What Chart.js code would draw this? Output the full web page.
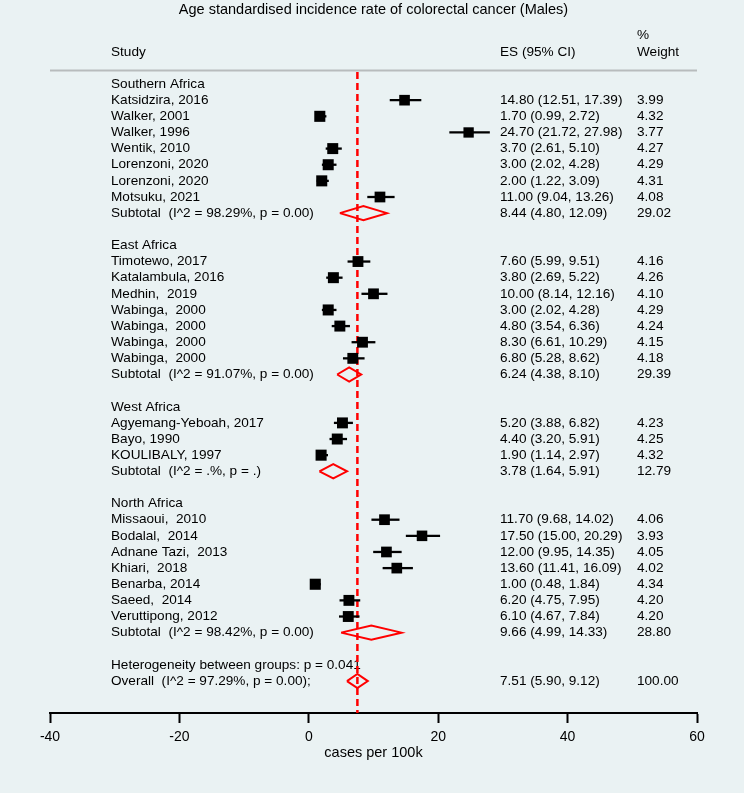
<!DOCTYPE html>
<html>
<head>
<meta charset="utf-8">
<script src="https://cdn.jsdelivr.net/npm/chart.js@4.4.0/dist/chart.umd.min.js"></script>
<style>
  html, body { margin: 0; padding: 0; background: #eaf2f3; }
  canvas { display: block; }
</style>
</head>
<body>
<canvas id="forest" width="744" height="793"></canvas>
<script>
var chartTitle = 'Age standardised incidence rate of colorectal cancer (Males)';
var axisTitle = 'cases per 100k';
var xTicks = [-40, -20, 0, 20, 40, 60];

var groupNames = ['Southern Africa', 'East Africa', 'West Africa', 'North Africa'];
var studyNames = [
  ['Katsidzira, 2016', 'Walker, 2001', 'Walker, 1996', 'Wentik, 2010', 'Lorenzoni, 2020', 'Lorenzoni, 2020', 'Motsuku, 2021'],
  ['Timotewo, 2017', 'Katalambula, 2016', 'Medhin,  2019', 'Wabinga,  2000', 'Wabinga,  2000', 'Wabinga,  2000', 'Wabinga,  2000'],
  ['Agyemang-Yeboah, 2017', 'Bayo, 1990', 'KOULIBALY, 1997'],
  ['Missaoui,  2010', 'Bodalal,  2014', 'Adnane Tazi,  2013', 'Khiari,  2018', 'Benarba, 2014', 'Saeed,  2014', 'Veruttipong, 2012']
];
var studyES = [
  [14.80, 1.70, 24.70, 3.70, 3.00, 2.00, 11.00],
  [7.60, 3.80, 10.00, 3.00, 4.80, 8.30, 6.80],
  [5.20, 4.40, 1.90],
  [11.70, 17.50, 12.00, 13.60, 1.00, 6.20, 6.10]
];
var studyLo = [
  [12.51, 0.99, 21.72, 2.61, 2.02, 1.22, 9.04],
  [5.99, 2.69, 8.14, 2.02, 3.54, 6.61, 5.28],
  [3.88, 3.20, 1.14],
  [9.68, 15.00, 9.95, 11.41, 0.48, 4.75, 4.67]
];
var studyHi = [
  [17.39, 2.72, 27.98, 5.10, 4.28, 3.09, 13.26],
  [9.51, 5.22, 12.16, 4.28, 6.36, 10.29, 8.62],
  [6.82, 5.91, 2.97],
  [14.02, 20.29, 14.35, 16.09, 1.84, 7.95, 7.84]
];
var studyWeight = [
  [3.99, 4.32, 3.77, 4.27, 4.29, 4.31, 4.08],
  [4.16, 4.26, 4.10, 4.29, 4.24, 4.15, 4.18],
  [4.23, 4.25, 4.32],
  [4.06, 3.93, 4.05, 4.02, 4.34, 4.20, 4.20]
];
var subtotalES = [8.44, 6.24, 3.78, 9.66];
var subtotalLo = [4.80, 4.38, 1.64, 4.99];
var subtotalHi = [12.09, 8.10, 5.91, 14.33];
var subtotalWeight = [29.02, 29.39, 12.79, 28.80];
var subtotalHet = ['I^2 = 98.29%, p = 0.00', 'I^2 = 91.07%, p = 0.00', 'I^2 = .%, p = .', 'I^2 = 98.42%, p = 0.00'];
var betweenP = '0.041';
var overallES = 7.51, overallLo = 5.90, overallHi = 9.12, overallWeight = 100.00;
var overallHet = 'I^2 = 97.29%, p = 0.00';

// build the rows, one per text line
var rows = [];
var r = 0;
groupNames.forEach(function (g, gi) {
  rows.push({ y: r++, label: g, kind: 'group' });
  studyNames[gi].forEach(function (name, i) {
    rows.push({ y: r++, label: name, kind: 'study', es: studyES[gi][i], lo: studyLo[gi][i], hi: studyHi[gi][i], w: studyWeight[gi][i] });
  });
  rows.push({ y: r++, label: 'Subtotal  (' + subtotalHet[gi] + ')', kind: 'sub', es: subtotalES[gi], lo: subtotalLo[gi], hi: subtotalHi[gi], w: subtotalWeight[gi] });
  r++;
});
rows.push({ y: r++, label: 'Heterogeneity between groups: p = ' + betweenP, kind: 'het' });
rows.push({ y: r++, label: 'Overall  (' + overallHet + ');', kind: 'sub', es: overallES, lo: overallLo, hi: overallHi, w: overallWeight });

var yMin = -3.97, yMax = 38.98;
var fontFam = '"Liberation Sans", Arial, sans-serif';
Chart.defaults.font.family = fontFam;
Chart.defaults.color = '#000';

var datasets = [];
var studies = rows.filter(function (d) { return d.kind === 'study'; });
datasets.push({
  data: studies.map(function (d) { return { x: d.es, y: d.y }; }),
  pointStyle: 'rect',
  pointRadius: studies.map(function (d) { return 7.8 * Math.sqrt(d.w / 4.3); }),
  backgroundColor: '#000',
  borderWidth: 0,
  showLine: false
});
studies.forEach(function (d) {
  datasets.push({
    data: [{ x: d.lo, y: d.y }, { x: d.hi, y: d.y }],
    showLine: true, borderColor: '#000', borderWidth: 2.3, pointRadius: 0
  });
});
// reference line at the overall estimate
datasets.push({
  data: [{ x: overallES, y: -0.75 }, { x: overallES, y: yMax }],
  showLine: true, borderColor: '#ff0000', borderWidth: 2.5, borderDash: [7, 4], pointRadius: 0
});
rows.filter(function (d) { return d.kind === 'sub'; }).forEach(function (d) {
  var h = 0.44;
  datasets.push({
    data: [{ x: d.lo, y: d.y }, { x: d.es, y: d.y - h }, { x: d.hi, y: d.y }, { x: d.es, y: d.y + h }, { x: d.lo, y: d.y }],
    showLine: true, borderColor: '#ff0000', borderWidth: 2, pointRadius: 0, borderJoinStyle: 'miter'
  });
});

var colStudy = 111, colES = 500, colW = 637;

var forestText = {
  id: 'forestText',
  beforeDraw: function (chart) {
    var ctx = chart.ctx;
    ctx.save();
    ctx.fillStyle = '#eaf2f3';
    ctx.fillRect(0, 0, chart.width, chart.height);
    ctx.restore();
  },
  beforeDatasetsDraw: function (chart) {
    var ctx = chart.ctx, ys = chart.scales.y, area = chart.chartArea;
    ctx.save();
    ctx.fillStyle = '#000';
    ctx.textBaseline = 'middle';
    ctx.textAlign = 'center';
    ctx.font = '14.5px ' + fontFam;
    ctx.fillText(chartTitle, (area.left + area.right) / 2, 10);

    ctx.font = '13.6px ' + fontFam;
    ctx.textAlign = 'left';
    ctx.fillText('Study', colStudy, ys.getPixelForValue(-2));
    ctx.fillText('ES (95% CI)', colES, ys.getPixelForValue(-2));
    ctx.fillText('%', colW, ys.getPixelForValue(-3));
    ctx.fillText('Weight', colW, ys.getPixelForValue(-2));

    ctx.strokeStyle = '#b8bcbd';
    ctx.lineWidth = 2;
    ctx.beginPath();
    var gy = ys.getPixelForValue(-0.84);
    ctx.moveTo(area.left, gy);
    ctx.lineTo(area.right, gy);
    ctx.stroke();

    rows.forEach(function (d) {
      var py = ys.getPixelForValue(d.y);
      ctx.fillText(d.label, colStudy, py);
      if (d.es !== undefined) {
        ctx.fillText(d.es.toFixed(2) + ' (' + d.lo.toFixed(2) + ', ' + d.hi.toFixed(2) + ')', colES, py);
        ctx.fillText(d.w.toFixed(2), colW, py);
      }
    });
    ctx.restore();
  }
};

new Chart(document.getElementById('forest'), {
  type: 'scatter',
  data: { datasets: datasets },
  options: {
    responsive: false,
    animation: false,
    layout: { padding: { left: 50, right: 47, top: 20, bottom: 0 } },
    plugins: { legend: { display: false }, tooltip: { enabled: false } },
    scales: {
      x: {
        type: 'linear', min: -40, max: 60,
        afterBuildTicks: function (s) { s.ticks = xTicks.map(function (v) { return { value: v }; }); },
        afterFit: function (s) { s.height = 80; },
        ticks: { color: '#000', font: { size: 14 }, padding: 6, maxRotation: 0 },
        grid: { drawOnChartArea: false, drawTicks: true, tickLength: 10, tickWidth: 2, tickColor: '#000' },
        border: { display: true, color: '#000', width: 2 },
        title: { display: true, text: axisTitle, color: '#000', font: { size: 14.5 }, padding: { top: 0, bottom: 31.3 } }
      },
      y: { type: 'linear', reverse: true, min: yMin, max: yMax, display: false }
    }
  },
  plugins: [forestText]
});
</script>
</body>
</html>
